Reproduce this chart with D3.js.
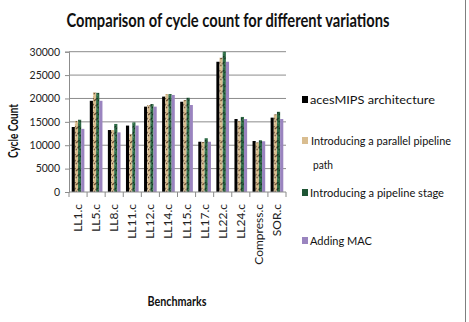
<!DOCTYPE html>
<html><head><meta charset="utf-8">
<script src="https://cdn.jsdelivr.net/npm/d3@7"></script>
<style>
html,body{margin:0;padding:0;background:#fff;}
svg{display:block;}
text{font-family:Lato,"Liberation Sans",sans-serif;}
</style></head>
<body><div id="chart"></div>
<script>
const categories = ["LL1.c","LL5.c","LL8.c","LL11.c","LL12.c","LL14.c","LL15.c","LL17.c","LL22.c","LL24.c","Compress.c","SOR.c"];
const seriesNames = ["acesMIPS architecture","Introducing a parallel  pipeline path","Introducing a  pipeline stage","Adding MAC"];
const acesMIPS = [13900,19500,13250,14200,18250,20400,19300,10750,27850,15600,10900,15900];
const parallelPath = [15200,21300,13250,12400,18600,20950,19650,10700,28700,15200,10600,16600];
const pipelineStage = [15450,21200,14550,14900,18800,20950,20150,11500,30000,16050,11050,17150];
const addingMAC = [13500,19500,12750,14200,18250,20750,18600,10750,27850,15600,10850,15600];
const yTicks = [0,5000,10000,15000,20000,25000,30000];
const series = [acesMIPS, parallelPath, pipelineStage, addingMAC];

const W = 469, H = 322;
const svg = d3.select("#chart").append("svg").attr("width", W).attr("height", H);
const defs = svg.append("defs");

function stripePattern(id, base, dark, light) {
  const p = defs.append("pattern").attr("id", id).attr("patternUnits","userSpaceOnUse")
    .attr("width", 4).attr("height", 14);
  p.append("rect").attr("width",4).attr("height",14).attr("fill", base);
  p.append("path").attr("d","M0,3 L4,0 M0,10 L4,6").attr("stroke", dark).attr("stroke-width",1.3);
  p.append("path").attr("d","M0,7 L4,12").attr("stroke", light).attr("stroke-width",1);
}
stripePattern("tanTex", "#d9bd90", "#5e4127", "#f1e0c0");
stripePattern("greenTex", "#2c6a45", "#12301e", "#4f8a62");

const fills = ["#000000", "url(#tanTex)", "url(#greenTex)", "#9a84bf"];
const legendFills = ["#000000", "#d9bd90", "#1f5535", "#9a84bf"];

const m = {left: 69, right: 286, top: 51.7, bottom: 192};
const x = d3.scaleBand().domain(categories).range([m.left, m.right]).paddingInner(0.3).paddingOuter(0.15);
const xs = d3.scaleBand().domain(d3.range(4)).range([0, x.bandwidth()]);
const y = d3.scaleLinear().domain([0, 30000]).range([m.bottom, m.top]);

svg.append("g").selectAll("line").data(yTicks.filter(d => d > 0)).join("line")
  .attr("x1", m.left).attr("x2", m.right)
  .attr("y1", d => y(d)).attr("y2", d => y(d))
  .attr("stroke", "#8c8c8c").attr("stroke-width", 1);

const groups = svg.append("g").selectAll("g").data(categories).join("g")
  .attr("transform", d => `translate(${x(d)},0)`);
groups.selectAll("rect").data((c, i) => series.map((s, k) => ({k, v: s[i]}))).join("rect")
  .attr("x", d => xs(d.k)).attr("width", xs.bandwidth())
  .attr("y", d => y(d.v)).attr("height", d => y(0) - y(d.v))
  .attr("fill", d => fills[d.k]);

const yAxis = d3.axisLeft(y).tickValues(yTicks).tickSize(4).tickPadding(5).tickFormat(d3.format("d"));
const ga = svg.append("g").attr("transform", `translate(${m.left},0)`).call(yAxis);
ga.select(".domain").attr("stroke", "#8c8c8c");
ga.selectAll(".tick line").attr("stroke", "#8c8c8c");
ga.selectAll("text").attr("font-size", 10.5).attr("fill", "#222")
  .style("font-family", 'Lato,sans-serif');

const xAxisG = svg.append("g");
xAxisG.append("line").attr("x1", m.left).attr("x2", m.right).attr("y1", m.bottom).attr("y2", m.bottom)
  .attr("stroke", "#8c8c8c");
xAxisG.selectAll("line.t").data(d3.range(categories.length + 1)).join("line").attr("class","t")
  .attr("x1", i => m.left + (m.right - m.left) * i / categories.length)
  .attr("x2", i => m.left + (m.right - m.left) * i / categories.length)
  .attr("y1", m.bottom).attr("y2", m.bottom + 5).attr("stroke", "#8c8c8c");
xAxisG.selectAll("text").data(categories).join("text")
  .attr("transform", d => `translate(${x(d) + x.bandwidth()/2 + 4},${m.bottom + 12}) rotate(-90)`)
  .attr("text-anchor", "end")
  .attr("font-size", 12).attr("fill", "#222")
  .text(d => d);

svg.append("text").attr("x", 228).attr("y", 27).attr("text-anchor", "middle")
  .attr("font-size", 18).attr("font-weight", "bold").attr("fill", "#111")
  .attr("textLength", 323).attr("lengthAdjust", "spacingAndGlyphs")
  .text("Comparison of cycle count for different variations");

svg.append("text").attr("transform", "translate(18,131) rotate(-90)").attr("text-anchor","middle")
  .attr("font-size", 13).attr("font-weight","bold").attr("fill","#111")
  .attr("textLength", 54).attr("lengthAdjust", "spacingAndGlyphs").text("Cycle Count");
svg.append("text").attr("x", 177).attr("y", 306).attr("text-anchor","middle")
  .attr("font-size", 13).attr("font-weight","bold").attr("fill","#111")
  .attr("textLength", 59).attr("lengthAdjust", "spacingAndGlyphs").text("Benchmarks");

const legY = [104, 145, 197, 245];
const legLen = [125, 140, 134, 62];
const leg = svg.append("g");
seriesNames.forEach((name, k) => {
  leg.append("rect").attr("x", 302).attr("y", legY[k] - 8).attr("width", 6).attr("height", 7)
    .attr("fill", legendFills[k]);
  if (k === 1) {
    leg.append("text").attr("x", 311).attr("y", legY[k]).attr("font-size", 11.5).attr("fill","#111")
      .attr("textLength", legLen[k]).attr("lengthAdjust", "spacingAndGlyphs")
      .text("Introducing a parallel  pipeline");
    leg.append("text").attr("x", 313).attr("y", legY[k] + 24).attr("font-size", 11.5).attr("fill","#111")
      .attr("textLength", 20).attr("lengthAdjust", "spacingAndGlyphs").text("path");
  } else {
    leg.append("text").attr("x", 310).attr("y", legY[k]).attr("font-size", 11.5).attr("fill","#111")
      .attr("textLength", legLen[k]).attr("lengthAdjust", "spacingAndGlyphs").text(name);
  }
});

svg.append("line").attr("x1", 465.5).attr("x2", 465.5).attr("y1", 0).attr("y2", H)
  .attr("stroke", "#7f7f7f").attr("stroke-width", 1);
</script>
</body></html>
